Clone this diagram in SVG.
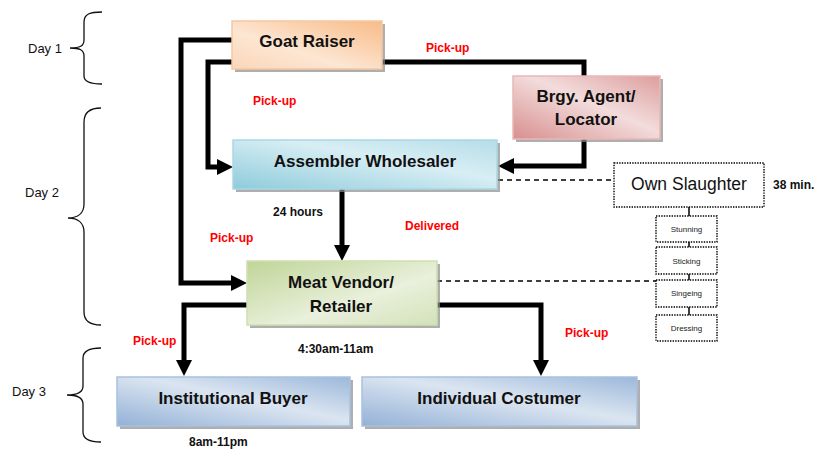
<svg xmlns="http://www.w3.org/2000/svg" width="820" height="450" viewBox="0 0 820 450">
<style>
.node{stroke-width:1.5}
.shadow{fill:#8c8c8c;opacity:0.7}
.nt{font-family:"Liberation Sans",Arial,sans-serif;font-weight:bold;font-size:17px;fill:#111;text-anchor:middle}
.red{font-family:"Liberation Sans",Arial,sans-serif;font-weight:bold;font-size:12px;fill:#ff0000}
.blk{font-family:"Liberation Sans",Arial,sans-serif;font-weight:bold;font-size:12px;fill:#111}
.day{font-family:"Liberation Sans",Arial,sans-serif;font-size:13px;fill:#111}
.brace{fill:none;stroke:#111;stroke-width:1.3}
.conn{fill:none;stroke:#000;stroke-width:5;stroke-linejoin:miter}
.dash{fill:none;stroke:#000;stroke-width:1.4;stroke-dasharray:5,4}
.thin{fill:none;stroke:#000;stroke-width:1.5}
.dot{fill:#fff;stroke:#000;stroke-width:1.4;stroke-dasharray:1.4,1.2}
.small{font-family:"Liberation Sans",Arial,sans-serif;font-size:8px;fill:#222;text-anchor:middle}
</style>
<defs>
<linearGradient id="gOr" x1="1" y1="0" x2="0" y2="1">
<stop offset="0" stop-color="#f8bb87"/><stop offset="0.6" stop-color="#fde6d3"/><stop offset="1" stop-color="#fbd6b9"/>
</linearGradient>
<linearGradient id="gPk" x1="0" y1="1" x2="1" y2="0">
<stop offset="0" stop-color="#d78f8e"/><stop offset="0.55" stop-color="#f3dcdc"/><stop offset="1" stop-color="#dc9e9d"/>
</linearGradient>
<linearGradient id="gTl" x1="0" y1="1" x2="1" y2="0">
<stop offset="0" stop-color="#8ecbdb"/><stop offset="0.6" stop-color="#d8eef4"/><stop offset="1" stop-color="#b5dde8"/>
</linearGradient>
<linearGradient id="gGr" x1="0" y1="0" x2="1" y2="1">
<stop offset="0" stop-color="#c0d597"/><stop offset="0.6" stop-color="#e9f0dc"/><stop offset="1" stop-color="#d3e2b9"/>
</linearGradient>
<linearGradient id="gBl" x1="0" y1="1" x2="1" y2="0">
<stop offset="0" stop-color="#93b1d6"/><stop offset="0.55" stop-color="#dbe5f1"/><stop offset="1" stop-color="#9bb8da"/>
</linearGradient>
<marker id="arr" viewBox="0 0 16 16" refX="2" refY="8" markerWidth="16" markerHeight="16" markerUnits="userSpaceOnUse" orient="auto">
<path d="M0,0 L16,8 L0,16 z" fill="#000"/>
</marker>
</defs>

<g id="day-labels">
<text class="day" x="28" y="53">Day 1</text>
<path class="brace" d="M102,12 C90,12 84,14 84,22 V40 C84,46 80,48 70,48 C80,48 84,50 84,56 V76 C84,82 90,84 102,84"/>
<text class="day" x="25" y="197">Day 2</text>
<path class="brace" d="M101,108 C90,108 84,112 84,122 V204 C84,213 78,218 68,218 C78,218 84,223 84,232 V312 C84,321 90,325 101,325"/>
<text class="day" x="12" y="396">Day 3</text>
<path class="brace" d="M101,348 C90,348 83,351 83,358 V386 C83,392 78,395 67,395 C78,395 83,398 83,404 V432 C83,439 90,442 101,442"/>
</g>

<g id="connectors">
<path class="conn" d="M233,40 H181 V283 H233" marker-end="url(#arr)"/>
<path class="conn" d="M233,62 H208 V167 H219" marker-end="url(#arr)"/>
<path class="conn" d="M382,62 H584 V77"/>
<path class="conn" d="M584,139 V166 H512" marker-end="url(#arr)"/>
<path class="conn" d="M342,189 V247" marker-end="url(#arr)"/>
<path class="conn" d="M248,305 H184 V362" marker-end="url(#arr)"/>
<path class="conn" d="M436,305 H541 V362" marker-end="url(#arr)"/>
<path class="dash" d="M498,180 H614"/>
<path class="dash" d="M437,281 H656"/>
<path class="thin" d="M689,207 V216 M689,242 V247 M689,274 V280 M689,307 V315"/>
</g>

<g id="goat-raiser">
<rect class="shadow" x="235" y="24" width="150" height="48"/>
<rect class="node" x="232" y="21" width="150" height="48" fill="url(#gOr)" stroke="#f5c7a3"/>
<text class="nt" x="307" y="47">Goat Raiser</text>
</g>

<g id="brgy-agent">
<rect class="shadow" x="516" y="79" width="147" height="63"/>
<rect class="node" x="513" y="76" width="147" height="63" fill="url(#gPk)" stroke="#e7b8b7"/>
<text class="nt" x="586" y="102">Brgy. Agent/</text>
<text class="nt" x="586" y="125">Locator</text>
</g>

<g id="assembler-wholesaler">
<rect class="shadow" x="236" y="143" width="264" height="49"/>
<rect class="node" x="233" y="140" width="264" height="49" fill="url(#gTl)" stroke="#a9d8e4"/>
<text class="nt" x="365" y="167">Assembler Wholesaler</text>
</g>

<g id="own-slaughter">
<rect class="dot" x="614" y="163" width="150" height="44"/>
<text x="689" y="190" text-anchor="middle" font-family="Liberation Sans, Arial, sans-serif" font-size="17.5" fill="#111">Own Slaughter</text>
<text class="blk" x="773" y="189" font-size="12.5">38 min.</text>
</g>

<g id="stunning">
<rect class="dot" x="656" y="216" width="61" height="26"/>
<text class="small" x="686.5" y="232">Stunning</text>
</g>
<g id="sticking">
<rect class="dot" x="656" y="247" width="61" height="27"/>
<text class="small" x="686.5" y="264">Sticking</text>
</g>
<g id="singeing">
<rect class="dot" x="656" y="280" width="61" height="27"/>
<text class="small" x="686.5" y="296">Singeing</text>
</g>
<g id="dressing">
<rect class="dot" x="656" y="315" width="61" height="26"/>
<text class="small" x="686.5" y="331">Dressing</text>
</g>

<g id="meat-vendor">
<rect class="shadow" x="250" y="264" width="190" height="64"/>
<rect class="node" x="247" y="261" width="190" height="64" fill="url(#gGr)" stroke="#cfdfb0"/>
<text class="nt" x="341" y="288">Meat Vendor/</text>
<text class="nt" x="341" y="312">Retailer</text>
</g>

<g id="institutional-buyer">
<rect class="shadow" x="120" y="380" width="233" height="49"/>
<rect class="node" x="117" y="377" width="233" height="49" fill="url(#gBl)" stroke="#a9c1df"/>
<text class="nt" x="233" y="404">Institutional Buyer</text>
</g>

<g id="individual-costumer">
<rect class="shadow" x="365" y="380" width="275" height="49"/>
<rect class="node" x="362" y="377" width="275" height="49" fill="url(#gBl)" stroke="#a9c1df"/>
<text class="nt" x="499" y="404">Individual Costumer</text>
</g>

<g id="labels">
<text class="red" x="426" y="52">Pick-up</text>
<text class="red" x="253" y="105">Pick-up</text>
<text class="blk" x="273" y="216">24 hours</text>
<text class="red" x="405" y="230">Delivered</text>
<text class="red" x="210" y="242">Pick-up</text>
<text class="red" x="133" y="345">Pick-up</text>
<text class="blk" x="298" y="353" font-size="12.5">4:30am-11am</text>
<text class="red" x="565" y="337">Pick-up</text>
<text class="blk" x="189" y="446">8am-11pm</text>
</g>
</svg>
